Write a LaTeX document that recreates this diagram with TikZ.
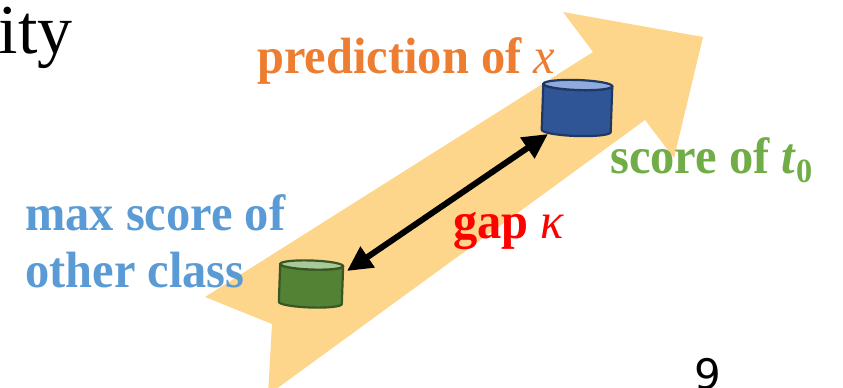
\documentclass[tikz,border=0pt]{standalone}
\usepackage{fontspec}
\setmainfont{Liberation Serif}
\newfontfamily\pagenumfont{DejaVu Sans}
\usetikzlibrary{arrows.meta}
\definecolor{band}{HTML}{FDD68B}
\definecolor{predorange}{HTML}{ED7D31}
\definecolor{scoregreen}{HTML}{70AD47}
\definecolor{maxblue}{HTML}{5B9BD5}
\definecolor{cylblue}{HTML}{2F5597}
\definecolor{cylblueedge}{HTML}{1F3864}
\definecolor{cylbluetop}{HTML}{8FAADC}
\definecolor{cylgreen}{HTML}{548235}
\definecolor{cylgreenedge}{HTML}{385723}
\definecolor{cylgreentop}{HTML}{A9C99A}
\newcommand{\cond}[1]{\scalebox{0.95}[1]{#1}}
\tikzset{
  bigtext/.style={inner sep=0pt, font=\fontsize{51}{60}\selectfont\bfseries},
  canbox/.style={inner sep=0pt, draw=none},
  gaparrow/.style={line width=6pt, {Triangle[length=25pt,width=24pt]}-{Triangle[length=25pt,width=24pt]}}
}
% #1 centre x, #2 centre y, #3 width, #4 body height, #5 end radius, #6 body, #7 edge, #8 top
\newcommand{\drawcan}[8]{%
  \begin{scope}[shift={(#1,#2)}, rotate=-2]
    \draw[line width=2.2pt, draw=#7, fill=#6, line join=round]
      (-#3/2,-#4/2) -- (-#3/2,#4/2) arc[start angle=180, end angle=0, x radius=#3/2, y radius=#5]
      -- (#3/2,-#4/2) arc[start angle=0, end angle=180, x radius=#3/2, y radius=#5] -- cycle;
    \draw[line width=2.2pt, draw=#7, fill=#8] (0,-#4/2) ellipse[x radius=#3/2, y radius=#5];
  \end{scope}}
\begin{document}
\begin{tikzpicture}[x=1pt,y=-1pt]
\useasboundingbox (0,0) rectangle (843,388);
% big band arrow
\fill[band] (205,297) -- (593,52) -- (563,12) -- (703,37) -- (674,158) -- (645,120)
  -- (268,395) -- (272,324) -- cycle;
% partial title
\node[anchor=base east, inner sep=0pt, font=\fontsize{70}{74}\selectfont] (title) at (73,53) {ity};
% labels
\node[bigtext, text=predorange, anchor=base west] (pred) at (257,73) {\cond{prediction of \textit{\mdseries x}}};
\node[bigtext, text=scoregreen, anchor=base west] (score) at (610,173) {\cond{score of \textit{t}\raisebox{-9pt}{\fontsize{34}{34}\selectfont 0}}};
\node[bigtext, text=maxblue, anchor=base west] (max1) at (25,230) {\cond{max score of}};
\node[bigtext, text=maxblue, anchor=base west] (max2) at (25,287) {\cond{other class}};
\node[bigtext, text=red, anchor=base west] (gap) at (453,238) {\cond{gap \textit{\mdseries κ}}};
% cylinders
\drawcan{577}{108}{69}{46}{5}{cylblue}{cylblueedge}{cylbluetop}
\node[canbox, minimum width=69pt, minimum height=56pt] (bluecan) at (577,108) {};
\drawcan{311}{284}{63}{38}{4.5}{cylgreen}{cylgreenedge}{cylgreentop}
\node[canbox, minimum width=63pt, minimum height=47pt] (greencan) at (311,284) {};
% gap arrow
\coordinate (gapstart) at (347,271);
\coordinate (gapend) at (548,134);
\draw[gaparrow] (gapstart) -- (gapend);
% page number
\node[anchor=base west, inner sep=0pt, font=\pagenumfont\fontsize{42}{42}\selectfont] (pagenum) at (694,389) {9};
\end{tikzpicture}
\end{document}
